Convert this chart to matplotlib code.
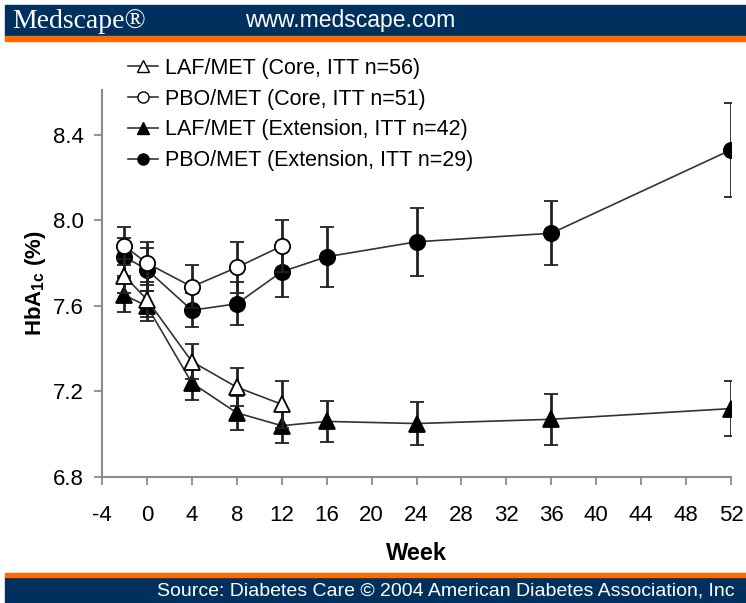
import matplotlib
matplotlib.use("Agg")
import matplotlib.pyplot as plt
from matplotlib.lines import Line2D
from matplotlib.patches import Rectangle

# ---------------- data ----------------
weeks_core = [-2, 0, 4, 8, 12]
weeks_ext = [-2, 0, 4, 8, 12, 16, 24, 36, 52]

laf_core = [7.74, 7.63, 7.34, 7.22, 7.14]
laf_core_err = [0.08, 0.08, 0.08, 0.09, 0.11]
pbo_core = [7.88, 7.80, 7.69, 7.78, 7.88]
pbo_core_err = [0.09, 0.10, 0.10, 0.12, 0.12]

laf_ext = [7.65, 7.60, 7.24, 7.10, 7.04, 7.06, 7.05, 7.07, 7.12]
laf_ext_err = [0.08, 0.07, 0.08, 0.08, 0.08, 0.095, 0.10, 0.12, 0.13]
pbo_ext = [7.83, 7.77, 7.58, 7.61, 7.76, 7.83, 7.90, 7.94, 8.33]
pbo_ext_err = [0.09, 0.10, 0.08, 0.10, 0.12, 0.14, 0.16, 0.15, 0.22]

labels = ["LAF/MET (Core, ITT n=56)", "PBO/MET (Core, ITT n=51)",
          "LAF/MET (Extension, ITT n=42)", "PBO/MET (Extension, ITT n=29)"]
x_ticks = list(range(-4, 53, 4))
y_ticks = [6.8, 7.2, 7.6, 8.0, 8.4]

# ---------------- style ----------------
plt.rcParams['font.family'] = ['Liberation Sans', 'DejaVu Sans']
plt.rcParams['mathtext.fontset'] = 'custom'
plt.rcParams['mathtext.rm'] = 'Liberation Sans'
plt.rcParams['mathtext.bf'] = 'Liberation Sans:bold'
plt.rcParams['axes.unicode_minus'] = False

NAVY = '#00305e'
ORANGE = '#ff6a00'
LINE = '#333333'
SPINE = '#8a8a8a'

fig = plt.figure(figsize=(7.46, 6.03), dpi=100)

# header / footer banners
fig.patches.append(Rectangle((5/746, 1-36/603), 1, 31/603, transform=fig.transFigure,
                             color=NAVY, zorder=0))
fig.patches.append(Rectangle((5/746, 1-41/603), 1, 5/603, transform=fig.transFigure,
                             color=ORANGE, zorder=0))
fig.patches.append(Rectangle((5/746, 0), 1, 26/603, transform=fig.transFigure,
                             color=NAVY, zorder=0))
fig.patches.append(Rectangle((5/746, 26/603), 1, 4/603, transform=fig.transFigure,
                             color=ORANGE, zorder=0))
fig.text(12/746, 1-21/603, "Medscape®", family='Liberation Serif', fontsize=20,
         color='white', va='center', ha='left')
fig.text(245/746, 1-21/603, "www.medscape.com", fontsize=16.5, color='white',
         va='center', ha='left')
fig.text(157/746, 12/603, "Source: Diabetes Care © 2004 American Diabetes Association, Inc",
         fontsize=14.0, color='white', va='center', ha='left')

ax = fig.add_axes([102/746, 126/603, 629/746, 387/603])

ekw = dict(color=LINE, ecolor='#222222', elinewidth=2.0, capsize=5, capthick=1.8,
           lw=1.2, ms=11, mec='black', mew=1.3)
ax.errorbar(weeks_ext, pbo_ext, yerr=pbo_ext_err, marker='o', mfc='black', zorder=3, **ekw)
ax.errorbar(weeks_ext, laf_ext, yerr=laf_ext_err, marker='^', mfc='black', zorder=3, **ekw)
ax.errorbar(weeks_core, pbo_core, yerr=pbo_core_err, marker='o', mfc='white', zorder=4, **ekw)
ax.errorbar(weeks_core, laf_core, yerr=laf_core_err, marker='^', mfc='white', zorder=4, **ekw)

ax.set_xlim(-4, 52)
ax.set_ylim(6.8, 8.61)
ax.set_xticks(x_ticks)
ax.set_yticks(y_ticks)
ax.set_yticklabels([f"{v:.1f}" for v in y_ticks])
for s in ['top', 'right']:
    ax.spines[s].set_visible(False)
for s in ['left', 'bottom']:
    ax.spines[s].set_color(SPINE)
    ax.spines[s].set_linewidth(1.5)
ax.tick_params(direction='out', length=6, width=1.3, color=SPINE, labelsize=16)
ax.tick_params(axis='x', pad=14)
ax.tick_params(axis='y', pad=7)
ax.set_xlabel("Week", fontsize=17, fontweight='bold', labelpad=12)
ax.set_ylabel(r"HbA$_{\mathbf{1c}}$ (%)", fontsize=16, fontweight='bold', labelpad=4)

handles = [
    Line2D([], [], color=LINE, lw=1.2, marker='^', mfc='white', mec='black', ms=8),
    Line2D([], [], color=LINE, lw=1.2, marker='o', mfc='white', mec='black', ms=8),
    Line2D([], [], color=LINE, lw=1.2, marker='^', mfc='black', mec='black', ms=8),
    Line2D([], [], color=LINE, lw=1.2, marker='o', mfc='black', mec='black', ms=8),
]
fig.legend(handles, labels, loc='upper left', bbox_to_anchor=(128/746, 1-58/603),
           frameon=False, fontsize=15.5, handlelength=1.4, handletextpad=0.3,
           labelspacing=0.45, borderpad=0, borderaxespad=0)

fig.savefig("out.png", dpi=100)
